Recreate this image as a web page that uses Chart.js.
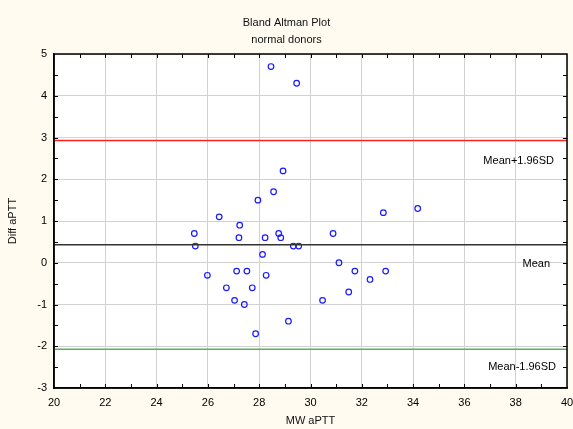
<!DOCTYPE html>
<html>
<head>
<meta charset="utf-8">
<title>Bland Altman Plot</title>
<script src="https://cdn.jsdelivr.net/npm/chart.js@4.4.1/dist/chart.umd.min.js"></script>
<style>
    html, body { margin: 0; padding: 0; background: #fffbf0; }
    #wrap { width: 573px; height: 429px; }
</style>
</head>
<body>
<div id="wrap"><canvas id="myChart" width="573" height="429"></canvas></div>
<script>
// MW aPTT (mean of both methods) and difference per donor
const mwAptt = [28.46, 29.46, 28.93, 28.56, 27.95, 26.44, 27.24, 25.47, 27.21, 28.23,
    28.76, 28.84, 30.88, 25.51, 29.33, 29.54, 28.13, 31.11, 27.12, 27.52,
    25.98, 28.27, 26.72, 27.73, 31.49, 27.04, 30.47, 27.42, 29.14, 27.86,
    32.84, 34.18, 31.73, 32.93, 32.32];
const diffAptt = [4.7, 4.3, 2.2, 1.7, 1.5, 1.1, 0.9, 0.7, 0.6, 0.6,
    0.7, 0.6, 0.7, 0.4, 0.4, 0.4, 0.2, 0.0, -0.2, -0.2,
    -0.3, -0.3, -0.6, -0.6, -0.7, -0.9, -0.9, -1.0, -1.4, -1.7,
    1.2, 1.3, -0.2, -0.2, -0.4];

const meanDiff = 0.43;
const upperLimit = 2.93;
const lowerLimit = -2.07;

const xRange = [20, 40];
const yRange = [-3, 5];

const font = 'Arial, "Liberation Sans", sans-serif';

const hline = (v) => [{x: xRange[0], y: v}, {x: xRange[1], y: v}];

// background, frame, inner tick marks and the limit labels
const plotDecor = {
    id: 'plotDecor',
    beforeDraw(chart) {
        const {ctx, chartArea: a} = chart;
        ctx.save();
        ctx.fillStyle = '#fffbf0';
        ctx.fillRect(0, 0, chart.width, chart.height);
        ctx.fillStyle = '#ffffff';
        ctx.fillRect(a.left, a.top, a.right - a.left, a.bottom - a.top);
        ctx.restore();
    },
    afterDraw(chart) {
        const {ctx, chartArea: a, scales: {x, y}} = chart;
        ctx.save();
        ctx.strokeStyle = '#000';
        ctx.lineWidth = 1;
        ctx.beginPath();
        for (let v = xRange[0] + 1; v < xRange[1]; v++) {
            const px = Math.round(x.getPixelForValue(v)) + 0.5;
            ctx.moveTo(px, a.top); ctx.lineTo(px, a.top + 4);
            ctx.moveTo(px, a.bottom); ctx.lineTo(px, a.bottom - 4);
        }
        for (let v = yRange[0] + 0.5; v < yRange[1]; v += 0.5) {
            const py = Math.round(y.getPixelForValue(v)) + 0.5;
            ctx.moveTo(a.left, py); ctx.lineTo(a.left + 4, py);
            ctx.moveTo(a.right, py); ctx.lineTo(a.right - 4, py);
        }
        ctx.stroke();
        ctx.lineWidth = 1.5;
        ctx.strokeRect(a.left, a.top, a.right - a.left, a.bottom - a.top);

        ctx.fillStyle = '#000';
        ctx.font = '11px ' + font;
        ctx.textAlign = 'right';
        ctx.textBaseline = 'middle';
        ctx.fillText('Mean+1.96SD', a.right - 13, y.getPixelForValue(upperLimit) + 21);
        ctx.fillText('Mean', a.right - 17, y.getPixelForValue(meanDiff) + 19);
        ctx.fillText('Mean-1.96SD', a.right - 11, y.getPixelForValue(lowerLimit) + 18);
        ctx.restore();
    }
};

const data = {
    datasets: [{
            label: 'Mean+1.96SD',
            type: 'line',
            data: hline(upperLimit),
            borderColor: '#ff2020',
            borderWidth: 1.5,
            pointRadius: 0
        },
        {
            label: 'Mean',
            type: 'line',
            data: hline(meanDiff),
            borderColor: '#333333',
            borderWidth: 1.5,
            pointRadius: 0
        },
        {
            label: 'Mean-1.96SD',
            type: 'line',
            data: hline(lowerLimit),
            borderColor: '#5cb05c',
            borderWidth: 1.5,
            pointRadius: 0
        },
        {
            label: 'Diff aPTT',
            data: mwAptt.map((v, i) => ({x: v, y: diffAptt[i]})),
            borderColor: '#1a1aff',
            backgroundColor: 'rgba(0,0,0,0)',
            borderWidth: 1.2,
            pointRadius: 2.8
        }]
};

const config = {
    type: 'scatter',
    data: data,
    options: {
        responsive: false,
        animation: false,
        layout: {padding: {left: 0, right: 0, top: 0, bottom: 0}},
        plugins: {
            legend: {display: false},
            tooltip: {enabled: false},
            title: {
                display: true,
                text: ['Bland Altman Plot', 'normal donors'],
                color: '#111',
                font: {family: font, size: 11, weight: 'normal', lineHeight: 17 / 11},
                padding: {top: 14, bottom: 6}
            }
        },
        scales: {
            x: {
                type: 'linear',
                min: xRange[0],
                max: xRange[1],
                // the last label may run off the right edge, as in the printout
                afterFit: (s) => { s.height = 41; s.paddingRight = 6; s.paddingLeft = 0; },
                ticks: {stepSize: 2, color: '#000', padding: 8, maxRotation: 0,
                    font: {family: font, size: 11}},
                grid: {color: '#d2d2d2', drawTicks: false},
                border: {color: '#000', width: 1.5},
                title: {display: true, text: 'MW aPTT', color: '#111',
                    font: {family: font, size: 11}, padding: {top: 0, bottom: 1}}
            },
            y: {
                type: 'linear',
                min: yRange[0],
                max: yRange[1],
                afterFit: (s) => { s.width = 54; },
                ticks: {stepSize: 1, color: '#000', padding: 7,
                    font: {family: font, size: 11}},
                grid: {color: '#d2d2d2', drawTicks: false},
                border: {color: '#000', width: 1.5},
                title: {display: true, text: 'Diff aPTT', color: '#111',
                    font: {family: font, size: 11}, padding: {top: 6, bottom: 0}}
            }
        }
    },
    plugins: [plotDecor]
};

const myChart = new Chart(
    document.getElementById('myChart'),
    config
);
</script>
</body>
</html>
